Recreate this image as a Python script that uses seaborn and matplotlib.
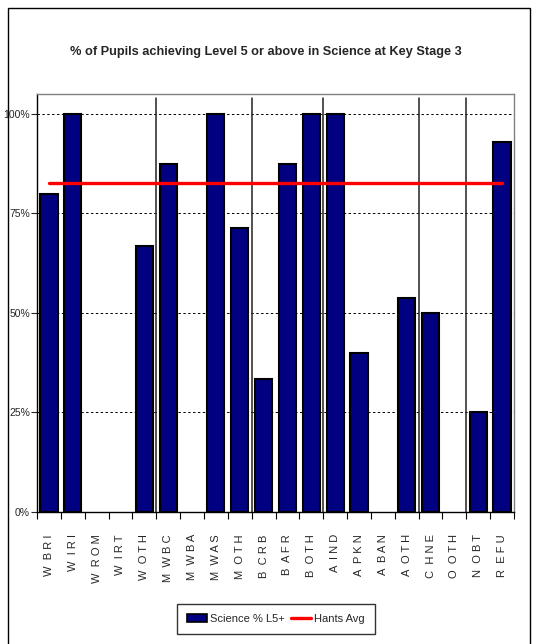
import matplotlib
matplotlib.use("Agg")
import matplotlib.pyplot as plt
import seaborn as sns
import pandas as pd
from matplotlib.patches import Patch, Rectangle
from matplotlib.lines import Line2D
from matplotlib.ticker import FixedLocator, PercentFormatter

categories = ["WBRI", "WIRI", "WROM", "WIRT", "WOTH", "MWBC", "MWBA", "MWAS", "MOTH",
              "BCRB", "BAFR", "BOTH", "AIND", "APKN", "ABAN", "AOTH", "CHNE", "OOTH",
              "NOBT", "REFU"]
tick_labels = ["W  B R I", "W  I R I", "W  R O M", "W  I R T", "W  O T H", "M  W B C",
               "M  W B A", "M  W A S", "M  O T H", "B  C R B", "B  A F R", "B  O T H",
               "A  I N D", "A  P K N", "A  B A N", "A  O T H", "C  H N E", "O  O T H",
               "N  O B T", "R  E F U"]
science = [0.80, 1.00, 0.0, 0.0, 0.667, 0.875, 0.0, 1.00, 0.714,
           0.333, 0.875, 1.00, 1.00, 0.40, 0.0, 0.538, 0.50, 0.0,
           0.25, 0.929]
hants_avg = [0.826] * len(categories)
group_breaks = [4.5, 8.5, 11.5, 15.5, 17.5]

sns.set_style("white")
plt.rcParams["font.family"] = ["Liberation Sans", "DejaVu Sans"]

df = pd.DataFrame({"cat": categories, "science": science, "hants": hants_avg,
                   "pos": range(len(categories))})

fig = plt.figure(figsize=(5.33, 6.44), dpi=100)
ax = fig.add_axes([37 / 533, 1 - 512 / 644, (514 - 37) / 533, (512 - 94) / 644])

# outer chart frame
fig.patches.append(Rectangle((8 / 533, -0.05), (530 - 8) / 533, 1 - 8 / 644 + 0.05,
                             transform=fig.transFigure, fill=False, edgecolor="black",
                             linewidth=1.0))

# group separators
for b in group_breaks:
    ax.plot([b, b], [0, 1.04], color="#222222", linewidth=1.1, zorder=1)

sns.barplot(data=df, x="pos", y="science", color="#000080", saturation=1, width=0.72,
            edgecolor="black", linewidth=1.5, ax=ax, zorder=3)
for p in ax.patches:
    if p.get_height() == 0:
        p.set_visible(False)
sns.lineplot(data=df, x="pos", y="hants", color="#ff0000", linewidth=2.4, ax=ax, zorder=4)

ax.set_xlim(-0.5, len(categories) - 0.5)
ax.set_ylim(0, 1.05)
ax.set_xlabel("")
ax.set_ylabel("")

ax.yaxis.set_major_locator(FixedLocator([0, 0.25, 0.5, 0.75, 1.0]))
ax.yaxis.set_major_formatter(PercentFormatter(1.0, decimals=0))
ax.tick_params(axis="y", left=True, length=4, width=0.8, labelsize=7.5, pad=1)
for y in [0.25, 0.5, 0.75, 1.0]:
    ax.axhline(y, color="black", linewidth=0.7, linestyle=(0, (2.5, 2.5)), zorder=0.5)

ax.set_xticks(range(len(categories)))
ax.set_xticklabels(tick_labels, rotation=90, fontsize=8, va="top")
ax.tick_params(axis="x", which="major", length=0, pad=16)
ax.set_xticks([i - 0.5 for i in range(len(categories) + 1)], minor=True)
ax.tick_params(axis="x", which="minor", bottom=True, length=5, width=0.8, color="black")

ax.spines["left"].set_color("black")
ax.spines["bottom"].set_color("black")
ax.spines["top"].set_color("#808080")
ax.spines["right"].set_color("#808080")
for s in ax.spines.values():
    s.set_linewidth(1.0)

fig.text(266 / 533, 1 - 52 / 644, "% of Pupils achieving Level 5 or above in Science at Key Stage 3",
         ha="center", va="center", fontsize=9.2, fontweight="bold")

handles = [Patch(facecolor="#000080", edgecolor="black", linewidth=1.2, label="Science % L5+"),
           Line2D([0], [0], color="#ff0000", linewidth=2.4, label="Hants Avg")]
leg = fig.legend(handles=handles, loc="upper center", bbox_to_anchor=(276 / 533, 1 - 604 / 644),
                 ncol=2, frameon=True, fancybox=False, shadow=False, fontsize=8,
                 handlelength=1.8, handletextpad=0.25, columnspacing=0.6,
                 borderpad=0.9, borderaxespad=0)
leg.get_frame().set_edgecolor("black")
leg.get_frame().set_linewidth(1.0)

fig.savefig("out.png", dpi=100)
